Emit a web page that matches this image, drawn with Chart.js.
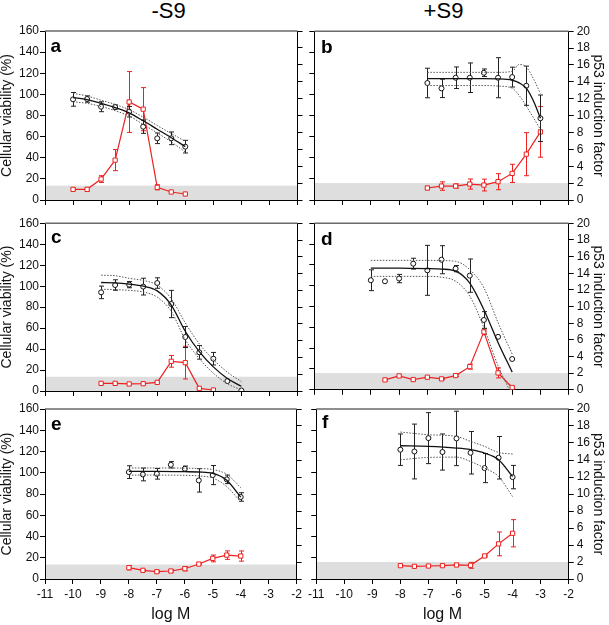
<!DOCTYPE html>
<html><head><meta charset="utf-8">
<script src="https://cdn.jsdelivr.net/npm/chart.js@4.4.0/dist/chart.umd.min.js"></script>
<style>
body{margin:0;background:#fff;width:609px;height:625px;overflow:hidden;position:relative;font-family:"Liberation Sans",Arial,sans-serif}
canvas{position:absolute}
.lbl{position:absolute;color:#000;white-space:nowrap;line-height:1}
.hd{font-size:22px;width:100px;text-align:center;top:0}
.let{font-size:19px;font-weight:bold}
</style></head><body>
<div class="lbl hd" style="left:118.5px">-S9</div>
<div class="lbl hd" style="left:393.5px">+S9</div>
<canvas id="ca" width="305" height="190" style="left:0;top:21px"></canvas>
<canvas id="cb" width="304" height="190" style="left:305px;top:21px"></canvas>
<canvas id="cc" width="305" height="187" style="left:0;top:213px"></canvas>
<canvas id="cd" width="304" height="187" style="left:305px;top:213px"></canvas>
<canvas id="ce" width="305" height="227" style="left:0;top:398px"></canvas>
<canvas id="cf" width="304" height="227" style="left:305px;top:398px"></canvas>
<div class="lbl let" style="left:50.5px;top:36.4px">a</div>
<div class="lbl let" style="left:321px;top:36.6px">b</div>
<div class="lbl let" style="left:51px;top:227.4px">c</div>
<div class="lbl let" style="left:321px;top:228.9px">d</div>
<div class="lbl let" style="left:51px;top:413.9px">e</div>
<div class="lbl let" style="left:322px;top:412.4px">f</div>
<script>
// ---- axis ticks ----
const xTicks = [-11,-10,-9,-8,-7,-6,-5,-4,-3,-2];
const viabTicks = [0,20,40,60,80,100,120,140,160];
const p53Ticks = [0,2,4,6,8,10,12,14,16,18,20];
// p53 background threshold (grey band), panels a-f
const bandTop = [1.7, 2.0, 1.7, 2.0, 1.7, 2.0];

// ---- panel a (-S9) ----
const logM_a = [-10,-9.5,-9,-8.5,-8,-7.5,-7,-6.5,-6];
const viab_a = [95.3,95.6,88.3,88,83.6,69.4,58.4,58.4,50.5];
const viabErr_a = [6.5,3,4.7,2,5,6.3,5,6,6];
const p53_a = [1.26,1.26,2.48,4.72,11.6,10.75,1.5,0.95,0.71];
const p53Err_a = [0.15,0.2,0.4,1.25,3.6,2.55,0.3,0.1,0.1];
const fitX_a = [-10,-9.5,-9,-8.5,-8,-7.5,-7,-6.5,-6];
const fit_a = [97,95,91.5,87.5,82.5,75,67,59,50.5];
const fitUp_a = [101,98.5,94.5,90.5,85.5,78.5,70.5,63,55.5];
const fitLo_a = [93,91.5,88.5,84.5,79.5,71.5,63.5,55,45.5];

// ---- panel b (+S9) ----
const logM_b = [-7,-6.5,-6,-5.5,-5,-4.5,-4,-3.5,-3];
const viab_b = [110.9,105.8,115.9,115.9,120.6,115.9,116.5,108.3,77.5];
const viabErr_b = [14,8.7,10.2,14,3.6,19,9.4,18.6,22];
const p53_b = [1.42,1.65,1.65,1.89,1.77,2.17,3.15,5.43,8.07];
const p53Err_b = [0.2,0.5,0.25,0.6,0.7,0.95,1.08,2.55,3.0];
const fitX_b = [-7,-6,-5,-4.5,-4,-3.75,-3.5,-3.25,-3];
const fit_b = [115,115,115,114.8,113.5,111,106,94,77.5];
const fitUp_b = [121,121,121,121,122,128.5,126,115,101];
const fitLo_b = [108.5,108.5,108.5,108,106,99,89,78,67];

// ---- panel c (-S9) ----
const logM_c = [-9,-8.5,-8,-7.5,-7,-6.5,-6,-5.5,-5,-4.5,-4];
const viab_c = [94.1,101.1,101.5,99.6,103,83,51.5,36.9,30.8,9.5,0.5];
const viabErr_c = [6,5,3,8,5,13,10,6.5,6,0,0];
const logMp53_c = [-9,-8.5,-8,-7.5,-7,-6.5,-6,-5.5,-5];
const p53_c = [0.91,0.91,0.84,0.87,1.03,3.54,3.38,0.32,0.12];
const p53Err_c = [0.1,0.1,0.1,0.1,0.1,0.7,1.95,0.1,0.05];
const fitX_c = [-9,-8.5,-8,-7.5,-7,-6.5,-6,-5.5,-5,-4.5,-4];
const fit_c = [103.5,103.2,102,100,95.5,82,57,37.5,23,12,4.5];
const fitUp_c = [110.5,110,107.5,105.5,101,88,65,45,30,18,9];
const fitLo_c = [97,96.8,96,94.5,89.5,76,49,31,17,7,1];

// ---- panel d (+S9) ----
const logM_d = [-9,-8.5,-8,-7.5,-7,-6.5,-6,-5.5,-5,-4.5,-4];
const viab_d = [105.3,104.3,106.9,121.2,114.8,125,116.4,109.7,67.1,50.9,29.6];
const viabErr_d = [10,0,4,5.2,24,13.5,3,16,8,0,0];
const logMp53_d = [-8.5,-8,-7.5,-7,-6.5,-6,-5.5,-5,-4.5,-4];
const p53_d = [1.19,1.67,1.23,1.51,1.31,1.71,2.78,6.96,2.03,0.28];
const p53Err_d = [0.15,0.1,0.1,0.1,0.1,0.1,0.3,0.35,0.6,0.1];
const fitX_d = [-9,-8,-7,-6.5,-6,-5.5,-5,-4.5,-4];
const fit_d = [117,117,116.5,116,114,102.5,77,45.5,17];
const fitUp_d = [124.4,124.4,124.4,124.2,123.4,115.5,98,64.6,34.4];
const fitXLo_d = [-9,-8,-7,-6.5,-6,-5.5,-5,-4.5,-4.1];
const fitLo_d = [109,109,109,108.2,104.3,90,59.8,23.2,0];

// ---- panel e (-S9) ----
const logM_e = [-8,-7.5,-7,-6.5,-6,-5.5,-5,-4.5,-4];
const viab_e = [100.6,98.4,99,107.5,103.8,92.8,97.8,93.8,77.2];
const viabErr_e = [6,6,5,3,2.5,11,9,4,4];
const p53_e = [1.33,1.02,0.86,0.94,1.21,1.76,2.42,2.81,2.7];
const p53Err_e = [0.25,0.1,0.1,0.15,0.25,0.1,0.4,0.5,0.6];
const fitX_e = [-8,-7,-6,-5.5,-5,-4.5,-4];
const fit_e = [101.3,101.3,101,100.7,99.5,93,77];
const fitUp_e = [104.5,104.5,104.3,104,103,98.5,86];
const fitLo_e = [97.8,97.8,97.6,97,95,87,72.5];

// ---- panel f (+S9) ----
const logM_f = [-8,-7.5,-7,-6.5,-6,-5.5,-5,-4.5,-4];
const viab_f = [121.7,120,132.6,119.5,132.3,118.8,104.4,114.1,95.9];
const viabErr_f = [14.8,25.8,24,17,25.6,20,13.7,20,11];
const p53_f = [1.57,1.49,1.53,1.57,1.65,1.61,2.71,4.13,5.38];
const p53Err_f = [0.1,0.1,0.1,0.1,0.1,0.35,0.1,1.4,1.6];
const fitX_f = [-8,-7,-6,-5.5,-5,-4.5,-4];
const fit_f = [125.4,124.8,123.2,121.7,118.5,112.2,96.5];
const fitUp_f = [138.3,135.8,134.2,129.5,124.8,119.1,117.6];
const fitLo_f = [112.2,114.4,114.7,110.6,104.4,96.5,77.6];

const RED = 'rgb(238,32,32)';
const pts = (xs, ys) => xs.map((x, i) => ({x: x, y: ys[i]}));

const errorBarPlugin = {
  id: 'errbars',
  beforeDatasetDraw(chart, args) {
    const ds = chart.data.datasets[args.index];
    if (!ds.err) return;
    const ys = chart.scales[ds.yAxisID];
    const ctx = chart.ctx;
    ctx.save();
    ctx.strokeStyle = ds.barColor; ctx.lineWidth = 1;
    ds.data.forEach((p, i) => {
      const e = ds.err[i]; if (!e) return;
      const x = Math.round(args.meta.data[i].x) + 0.5;
      const y1 = ys.getPixelForValue(p.y + e), y2 = ys.getPixelForValue(p.y - e);
      ctx.beginPath();
      ctx.moveTo(x, y1); ctx.lineTo(x, y2);
      ctx.moveTo(x - 2.5, y1); ctx.lineTo(x + 2.5, y1);
      ctx.moveTo(x - 2.5, y2); ctx.lineTo(x + 2.5, y2);
      ctx.stroke();
    });
    ctx.restore();
  }
};
const framePlugin = {
  id: 'frame',
  beforeDraw(chart, args, opts) {
    const {ctx, chartArea: a, scales} = chart;
    const t = scales.y2.getPixelForValue(opts.band);
    const b = scales.y2.getPixelForValue(0);
    ctx.save();
    ctx.fillStyle = '#dedede';
    ctx.fillRect(a.left, t, a.right - a.left, b - t);
    ctx.restore();
  },
  afterDraw(chart) {
    const {ctx, chartArea: a} = chart;
    ctx.save();
    ctx.strokeStyle = '#6a6a6a'; ctx.lineWidth = 1.5;
    ctx.beginPath(); ctx.moveTo(a.left, a.top); ctx.lineTo(a.right, a.top); ctx.stroke();
    ctx.restore();
  }
};

const COLS = [{yW: 45, y2W: 7.5}, {yW: 9.3, y2W: 40.3}];
const ROWS = [{pad: 10, xH: 11}, {pad: 10.3, xH: 9}, {pad: 11, xH: 46}];
const FONT = {family: '"Liberation Sans", Arial, sans-serif', size: 12};

function panel(id, col, row, band, d) {
  const C = COLS[col], R = ROWS[row];
  const bottom = row === 2;
  const datasets = [
    {data: pts(d.fx, d.fu), yAxisID: 'y', borderColor: '#555', borderWidth: 1, borderDash: [1.5, 1.5], pointRadius: 0, cubicInterpolationMode: 'monotone'},
    {data: pts(d.fxl || d.fx, d.fl), yAxisID: 'y', borderColor: '#555', borderWidth: 1, borderDash: [1.5, 1.5], pointRadius: 0, cubicInterpolationMode: 'monotone'},
    {data: pts(d.fx, d.f), yAxisID: 'y', borderColor: '#111', borderWidth: 1.3, pointRadius: 0, cubicInterpolationMode: 'monotone'},
    {data: pts(d.x, d.v), err: d.ve, barColor: '#222', yAxisID: 'y', showLine: false, pointStyle: 'circle', pointRadius: 2.5, pointBorderWidth: 1, pointBorderColor: '#111', pointBackgroundColor: '#fff'},
    {data: pts(d.xr || d.x, d.p), err: d.pe, barColor: RED, yAxisID: 'y2', borderColor: RED, borderWidth: 1.2, tension: 0, pointStyle: 'rect', pointRadius: 3, pointBorderWidth: 1, pointBorderColor: RED, pointBackgroundColor: '#fff'}
  ];
  const gridOpts = {drawOnChartArea: false, drawTicks: true, tickLength: 5, color: '#000', lineWidth: 1};
  new Chart(document.getElementById(id), {
    type: 'line',
    data: {datasets},
    plugins: [errorBarPlugin, framePlugin],
    options: {
      responsive: false, animation: false, devicePixelRatio: 1,
      layout: {padding: {top: R.pad, left: 0, right: 0, bottom: 0}},
      plugins: {legend: {display: false}, tooltip: {enabled: false}, frame: {band: band}},
      scales: {
        x: {
          type: 'linear', min: -11, max: -2,
          afterBuildTicks: s => { s.ticks = xTicks.map(v => ({value: v})); },
          afterFit: s => { s.height = R.xH; },
          grid: gridOpts, border: {display: true, color: '#000', width: 1},
          ticks: {display: bottom, color: '#111', font: FONT, padding: 3, maxRotation: 0, autoSkip: false},
          title: {display: bottom, text: 'log M', color: '#111', font: {family: FONT.family, size: 16, lineHeight: 1.2}, padding: {top: 0, bottom: 1}}
        },
        y: {
          position: 'left', min: 0, max: 160,
          afterBuildTicks: s => { s.ticks = viabTicks.map(v => ({value: v})); },
          afterFit: s => { s.width = C.yW; },
          grid: gridOpts, border: {display: true, color: '#000', width: 1},
          ticks: {display: col === 0, color: '#111', font: FONT, padding: 1, autoSkip: false},
          title: {display: col === 0, text: 'Cellular viability (%)', color: '#111', font: {family: FONT.family, size: 14, lineHeight: 1}, padding: 0}
        },
        y2: {
          position: 'right', min: 0, max: 20,
          afterBuildTicks: s => { s.ticks = p53Ticks.map(v => ({value: v})); },
          afterFit: s => { s.width = C.y2W; },
          grid: gridOpts, border: {display: true, color: '#000', width: 1},
          ticks: {display: col === 1, color: '#111', font: FONT, padding: 3, autoSkip: false},
          title: {display: col === 1, text: 'p53 induction factor', color: '#111', font: {family: FONT.family, size: 14, lineHeight: 1}, padding: {top: 4, bottom: 0}}
        }
      }
    }
  });
}

panel('ca', 0, 0, bandTop[0], {x: logM_a, v: viab_a, ve: viabErr_a, p: p53_a, pe: p53Err_a, fx: fitX_a, f: fit_a, fu: fitUp_a, fl: fitLo_a});
panel('cb', 1, 0, bandTop[1], {x: logM_b, v: viab_b, ve: viabErr_b, p: p53_b, pe: p53Err_b, fx: fitX_b, f: fit_b, fu: fitUp_b, fl: fitLo_b});
panel('cc', 0, 1, bandTop[2], {x: logM_c, v: viab_c, ve: viabErr_c, xr: logMp53_c, p: p53_c, pe: p53Err_c, fx: fitX_c, f: fit_c, fu: fitUp_c, fl: fitLo_c});
panel('cd', 1, 1, bandTop[3], {x: logM_d, v: viab_d, ve: viabErr_d, xr: logMp53_d, p: p53_d, pe: p53Err_d, fx: fitX_d, f: fit_d, fu: fitUp_d, fxl: fitXLo_d, fl: fitLo_d});
panel('ce', 0, 2, bandTop[4], {x: logM_e, v: viab_e, ve: viabErr_e, p: p53_e, pe: p53Err_e, fx: fitX_e, f: fit_e, fu: fitUp_e, fl: fitLo_e});
panel('cf', 1, 2, bandTop[5], {x: logM_f, v: viab_f, ve: viabErr_f, p: p53_f, pe: p53Err_f, fx: fitX_f, f: fit_f, fu: fitUp_f, fl: fitLo_f});
</script>
</body></html>
